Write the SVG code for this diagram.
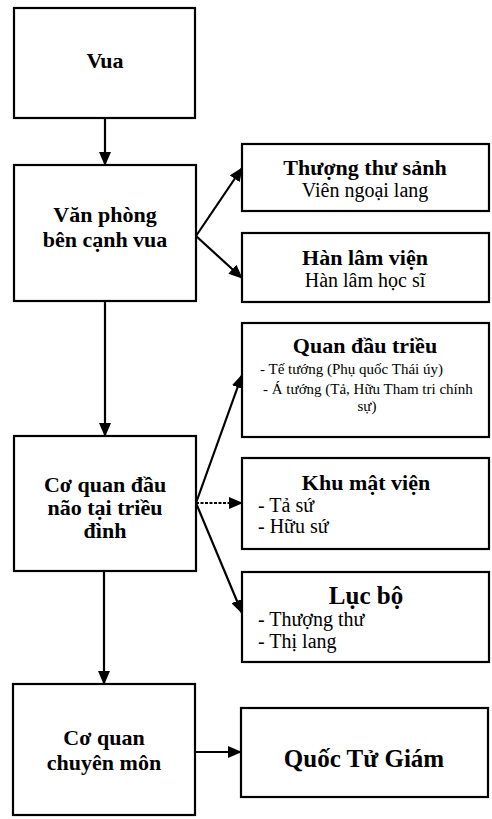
<svg xmlns="http://www.w3.org/2000/svg" width="492" height="819" viewBox="0 0 492 819">
<defs>
<marker id="ah" viewBox="0 0 14 12" refX="13" refY="6" markerWidth="14" markerHeight="12" markerUnits="userSpaceOnUse" orient="auto">
<path d="M0,0 L14,6 L0,12 Z" fill="#000"/>
</marker>
<style>
.box{fill:#fff;stroke:#000;stroke-width:2.2}
.t{font-family:"Liberation Serif","Times New Roman",serif;font-weight:bold;font-size:22px;fill:#000;text-anchor:middle}
.s{font-family:"Liberation Serif","Times New Roman",serif;font-size:20px;fill:#000}
.c{text-anchor:middle}
.xs{font-family:"Liberation Serif","Times New Roman",serif;font-size:15px;fill:#000}
.ln{fill:none;stroke:#000;stroke-width:2.2;marker-end:url(#ah)}
</style>
</defs>
<rect width="492" height="819" fill="#fff"/>
<g id="connectors">
<line class="ln" x1="105" y1="118" x2="105" y2="165"/>
<line class="ln" x1="105" y1="301" x2="105" y2="436"/>
<line class="ln" x1="104" y1="571" x2="104" y2="684"/>
<line class="ln" x1="196" y1="236" x2="242" y2="168"/>
<line class="ln" x1="196" y1="236" x2="242" y2="278"/>
<line class="ln" x1="196" y1="503" x2="242" y2="375"/>
<line class="ln" x1="196" y1="503" x2="242" y2="503" stroke-dasharray="3 1.5"/>
<line class="ln" x1="196" y1="503" x2="242" y2="613"/>
<line class="ln" x1="195" y1="752" x2="241" y2="752"/>
</g>
<g id="vua">
<rect class="box" x="14" y="8" width="181" height="110"/>
<text class="t" x="105" y="68">Vua</text>
</g>
<g id="van-phong">
<rect class="box" x="14" y="165" width="182" height="136"/>
<text class="t" x="105" y="222">Văn phòng</text>
<text class="t" x="105" y="247">bên cạnh vua</text>
</g>
<g id="co-quan-dau-nao">
<rect class="box" x="14" y="436" width="182" height="135"/>
<text class="t" x="105" y="492">Cơ quan đầu</text>
<text class="t" x="105" y="515">não tại triều</text>
<text class="t" x="105" y="538">đình</text>
</g>
<g id="co-quan-chuyen-mon">
<rect class="box" x="13" y="684" width="182" height="131"/>
<text class="t" x="104" y="745">Cơ quan</text>
<text class="t" x="104" y="770">chuyên môn</text>
</g>
<g id="thuong-thu-sanh">
<rect class="box" x="242" y="144" width="247" height="67"/>
<text class="t" x="365" y="175">Thượng thư sảnh</text>
<text class="s c" x="365" y="197">Viên ngoại lang</text>
</g>
<g id="han-lam-vien">
<rect class="box" x="242" y="233" width="247" height="69"/>
<text class="t" x="365" y="265">Hàn lâm viện</text>
<text class="s c" x="365" y="287">Hàn lâm học sĩ</text>
</g>
<g id="quan-dau-trieu">
<rect class="box" x="242" y="323" width="247" height="114"/>
<text class="t" x="365" y="353">Quan đầu triều</text>
<text class="xs" x="260" y="374">- Tế tướng (Phụ quốc Thái úy)</text>
<text class="xs" x="263" y="394">- Á tướng (Tả, Hữu Tham tri chính</text>
<text class="xs c" x="367" y="411">sự)</text>
</g>
<g id="khu-mat-vien">
<rect class="box" x="242" y="458" width="247" height="91"/>
<text class="t" x="366" y="490">Khu mật viện</text>
<text class="s" x="258" y="512">- Tả sứ</text>
<text class="s" x="258" y="533">- Hữu sứ</text>
</g>
<g id="luc-bo">
<rect class="box" x="242" y="572" width="247" height="90"/>
<text class="t" x="366" y="604" style="font-size:25px">Lục bộ</text>
<text class="s" x="258" y="626">- Thượng thư</text>
<text class="s" x="258" y="648">- Thị lang</text>
</g>
<g id="quoc-tu-giam">
<rect class="box" x="241" y="708" width="247" height="89"/>
<text class="t" x="364" y="767" style="font-size:25px">Quốc Tử Giám</text>
</g>
</svg>
